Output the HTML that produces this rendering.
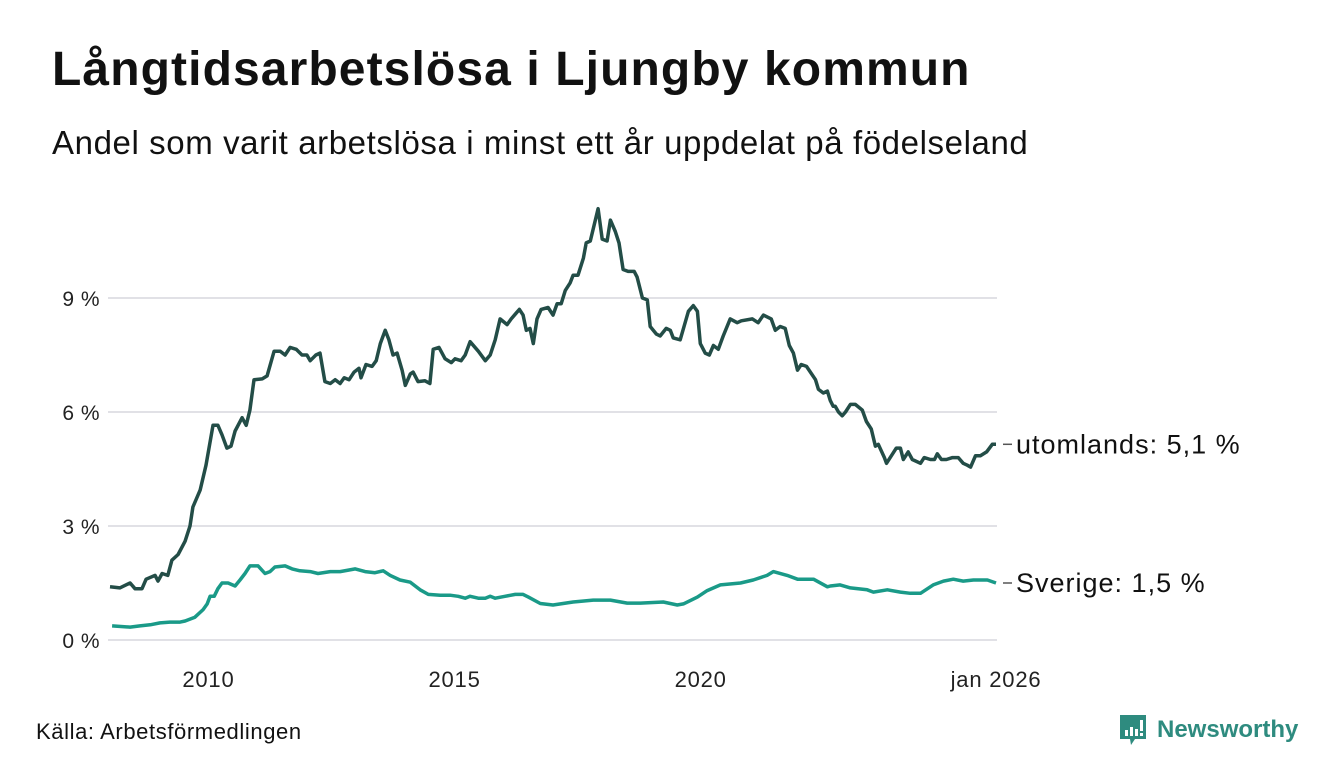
<!DOCTYPE html>
<html><head><meta charset="utf-8"><style>
body{margin:0;background:#fff;font-family:"Liberation Sans",sans-serif;color:#111;}
#wrap{position:relative;width:1340px;height:780px;overflow:hidden;}
h1{position:absolute;left:52px;top:42px;margin:0;font-size:48px;font-weight:bold;letter-spacing:1.1px;}
.sub{position:absolute;left:52px;top:124px;font-size:33px;letter-spacing:0.6px;}
.src{position:absolute;left:36px;top:719px;font-size:22px;letter-spacing:0.6px;}
.logo{position:absolute;left:1118px;top:713px;display:flex;align-items:center;color:#2e8b7f;font-size:24px;font-weight:bold;}
</style></head><body>
<div id="wrap">
<h1>Långtidsarbetslösa i Ljungby kommun</h1>
<div class="sub">Andel som varit arbetslösa i minst ett år uppdelat på födelseland</div>
<svg id="chart" width="1340" height="780" style="position:absolute;left:0;top:0"></svg>
<div class="src">Källa: Arbetsförmedlingen</div>
<div class="logo">
<svg width="30" height="34" viewBox="0 0 30 34"><path d="M2 2h26v24H17l-4 6-1-6H2z" fill="#2e8b7f"/><rect x="7" y="17" width="3" height="6" fill="#fff"/><rect x="12" y="14" width="3" height="9" fill="#fff"/><rect x="17" y="16" width="3" height="7" fill="#fff"/><rect x="22" y="7" width="3" height="11" fill="#fff"/><rect x="22" y="20" width="3" height="3" fill="#fff"/></svg>
<span style="margin-left:9px">Newsworthy</span></div>
</div>
<script>
const yTicks=[0,3,6,9];
const yTickLabels=["0 %","3 %","6 %","9 %"];
const xTickMonths=[24,84,144,216];
const xTickLabels=["2010","2015","2020","jan 2026"];
const utMonths=[0,2.4,4.9,6.1,7.8,8.8,11,11.7,12.7,14.1,15.1,16.6,18.3,19.5,20.2,22,23.4,25.1,26.3,27.3,28.5,29.5,30.5,32.2,33.2,34.1,35.1,37.1,38.3,40,41.5,42.7,43.9,45.4,46.8,48,48.8,50.2,51.2,52.4,53.7,54.9,56.1,57.1,58.3,59.5,60.7,61.2,62.4,63.9,64.9,65.9,67.1,68,69,70,71.2,72,73.2,73.9,75.1,76.8,78,78.8,80.2,81.7,83.2,84.1,85.6,86.6,87.8,89.8,91.5,92.7,93.9,95.1,96.8,97.8,99,99.8,100.7,101.5,102.4,103.2,104.1,105.1,106.8,108,109,110,111,112.2,112.9,114.1,115.4,116.1,117.1,119,120,121.2,122,123.2,124.1,125.1,126.3,127.8,128.5,129.8,131,131.7,133.2,134.1,135.6,136.6,137.3,139,141,142.2,143.2,143.9,145.1,146.1,147.1,148.3,149.5,151.2,152.9,153.9,156.6,158,159.3,161.2,162.2,163.4,164.6,165.6,166.6,167.6,168.5,169.8,172,172.7,173.9,174.9,175.6,176.3,176.8,177.6,178.5,179.3,180.5,181.7,183.4,184.4,185.6,186.6,187.3,188.8,189.3,190.2,191.7,192.7,193.4,194.6,195.6,197.6,198.5,200,201,201.7,202.7,203.9,205.4,206.8,208,209,209.8,211,212.2,213.7,215.1,216];
const utValues=[1.4,1.37,1.5,1.35,1.35,1.6,1.7,1.55,1.75,1.7,2.1,2.25,2.6,3.0,3.5,3.95,4.6,5.65,5.65,5.4,5.05,5.1,5.5,5.85,5.65,6.05,6.85,6.87,6.95,7.6,7.6,7.5,7.7,7.65,7.5,7.5,7.35,7.5,7.55,6.8,6.75,6.85,6.75,6.9,6.85,7.05,7.15,6.9,7.25,7.2,7.35,7.8,8.15,7.9,7.5,7.55,7.1,6.7,7.0,7.05,6.8,6.82,6.75,7.65,7.7,7.4,7.3,7.4,7.35,7.5,7.85,7.6,7.35,7.5,7.9,8.45,8.3,8.45,8.6,8.7,8.55,8.15,8.2,7.8,8.45,8.7,8.75,8.55,8.85,8.85,9.2,9.4,9.6,9.6,10.05,10.45,10.5,11.35,10.55,10.5,11.05,10.75,10.45,9.75,9.7,9.7,9.55,9.0,8.95,8.25,8.05,8.0,8.2,8.15,7.95,7.9,8.65,8.8,8.65,7.8,7.55,7.5,7.75,7.65,8.0,8.45,8.35,8.4,8.45,8.35,8.55,8.45,8.15,8.25,8.2,7.75,7.55,7.1,7.25,7.2,6.85,6.6,6.5,6.55,6.3,6.15,6.15,6.0,5.9,6.0,6.2,6.2,6.05,5.75,5.55,5.1,5.15,4.8,4.65,4.8,5.05,5.05,4.75,4.95,4.75,4.65,4.8,4.75,4.75,4.9,4.75,4.75,4.8,4.8,4.65,4.6,4.55,4.85,4.85,4.95,5.15,5.15];
const svMonths=[0.5,4.9,7.3,9.8,12.2,14.6,17.1,18.3,19.5,20.7,22.7,23.7,24.4,25.4,26.3,27.3,28.8,30.5,31.7,32.9,34.1,36.1,37.8,39,40.2,42.7,44.4,46.3,48.8,50.7,53.7,56.1,59.8,62.2,64.6,66.6,68.3,70.7,73.2,75.6,77.6,80.5,82.9,84.9,86.6,87.8,89.8,91.5,92.7,93.9,96.3,98.8,100.7,102,104.9,108,112.9,117.8,122,126.1,129.3,134.9,138.3,139.8,143.2,145.6,148.8,153.7,156.8,160.2,161.7,165.1,167.6,171.5,174.9,175.6,178,180.5,184.6,186.1,189.5,192.7,195.1,197.6,200.7,203.2,205.6,208,210.5,213.9,216];
const svValues=[0.37,0.34,0.37,0.4,0.45,0.47,0.47,0.5,0.55,0.6,0.8,0.95,1.15,1.15,1.35,1.5,1.5,1.42,1.58,1.75,1.95,1.95,1.75,1.8,1.92,1.95,1.87,1.82,1.8,1.75,1.8,1.8,1.87,1.8,1.77,1.82,1.7,1.58,1.52,1.32,1.2,1.18,1.18,1.15,1.1,1.15,1.1,1.1,1.15,1.1,1.15,1.2,1.2,1.13,0.96,0.92,1.0,1.05,1.05,0.97,0.97,1.0,0.92,0.95,1.13,1.3,1.45,1.5,1.58,1.7,1.8,1.7,1.6,1.6,1.4,1.42,1.45,1.37,1.32,1.26,1.32,1.26,1.23,1.23,1.45,1.55,1.6,1.55,1.58,1.58,1.5];
const NS='http://www.w3.org/2000/svg';
const svg=document.getElementById('chart');
const X=m=>110+m*(996-110)/216;
const Y=v=>640-v*38;
function mk(t,a){const e=document.createElementNS(NS,t);for(const k in a)e.setAttribute(k,a[k]);svg.appendChild(e);return e;}
yTicks.forEach((v,i)=>{
 const g=mk('line',{x1:108,x2:997,y1:Y(v),y2:Y(v),stroke:'#e1e1e6','stroke-width':2});
 
 
 const t=mk('text',{x:100,y:Y(v)+8,'text-anchor':'end','font-size':21,'letter-spacing':0.5,fill:'#222','font-family':'Liberation Sans, sans-serif'});
 t.textContent=yTickLabels[i];
 
 
});
xTickMonths.forEach((m,i)=>{
 const t=mk('text',{x:X(m),y:687,'text-anchor':'middle','font-size':22,'letter-spacing':0.8,fill:'#222','font-family':'Liberation Sans, sans-serif'});
 t.textContent=xTickLabels[i];
 
 
});
function line(ms,vs,col,name){
 const d=ms.map((m,i)=>(i?'L':'M')+X(m).toFixed(1)+' '+Y(vs[i]).toFixed(1)).join('');
 const p=mk('path',{d:d,fill:'none',stroke:col,'stroke-width':3.5,'stroke-linejoin':'round'});
 
 
}
line(svMonths,svValues,'#1a9a88','sverige-line');
line(utMonths,utValues,'#234d47','utomlands-line');
function lab(v,txt,name){
 const y=Y(v);
 const l=mk('line',{x1:1003,x2:1012,y1:y,y2:y,stroke:'#555','stroke-width':1.5});
 
 
 const t=mk('text',{x:1016,y:y+9,'font-size':27,'letter-spacing':1,fill:'#111','font-family':'Liberation Sans, sans-serif'});
 t.textContent=txt;
 
 
}
lab(utValues[utValues.length-1],'utomlands: 5,1 %','utomlands-label');
lab(svValues[svValues.length-1],'Sverige: 1,5 %','sverige-label');
</script>
</body></html>
